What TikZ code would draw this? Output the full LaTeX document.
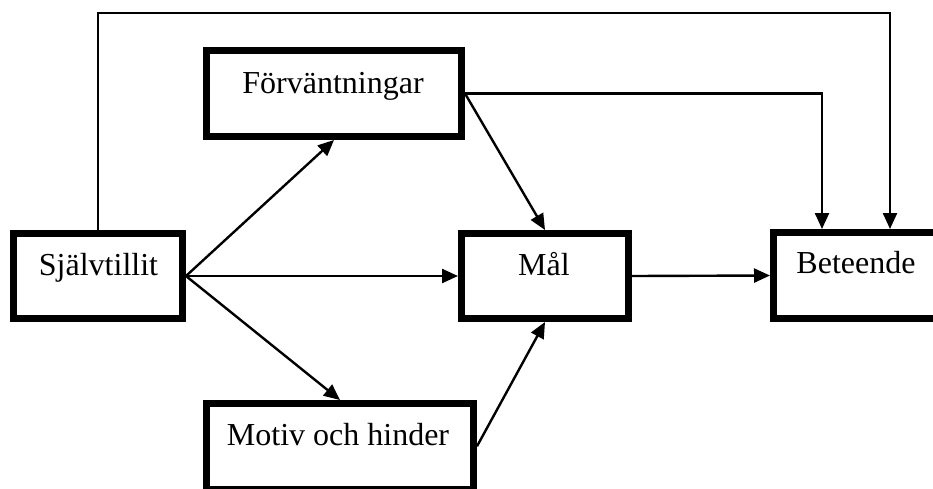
\documentclass[tikz,border=0pt]{standalone}
\usepackage{fontspec}
\setmainfont{Liberation Serif}
\usetikzlibrary{arrows.meta}
\begin{document}
\begin{tikzpicture}[x=1pt,y=-1pt,
  box/.style={draw, line width=7pt, rectangle, inner sep=0pt},
  lbl/.style={anchor=base, inner sep=0pt, font=\fontsize{32}{36}\selectfont},
  conn/.style={line width=2.4pt},
  arr/.style={conn, -{Triangle[length=16pt,width=14pt]}}]
\useasboundingbox[fill=white] (0,0) rectangle (933,488);
% boxes
\node[box, minimum width=169pt, minimum height=85pt] (sj) at (98,276) {};
\node[box, minimum width=255pt, minimum height=86pt] (fv) at (334,93.5) {};
\node[box, minimum width=167pt, minimum height=85pt] (ml) at (545,276) {};
\node[box, minimum width=166pt, minimum height=86pt] (bt) at (856.5,275.5) {};
\node[box, minimum width=267pt, minimum height=85.5pt] (mh) at (340,446.25) {};
% labels
\node[lbl] (sjt) at (98.5,275) {Självtillit};
\node[lbl] (fvt) at (333,93) {Förväntningar};
\node[lbl] (mlt) at (544,275) {Mål};
\node[lbl] (btt) at (856,273) {Beteende};
\node[lbl] (mht) at (338,445) {Motiv och hinder};
% helper coordinates
\coordinate (tr) at (890,13);
\coordinate (fr) at (822,93.5);
% connectors
\draw[arr] (sj.north) |- (tr) -- (tr |- bt.north);
\draw[arr] (fv.east) -- (fr) -- (fr |- bt.north);
\draw[arr] (fv.east) -- (ml.north);
\draw[arr] (sj.east) -- (fv.south);
\draw[arr] (sj.east) -- (ml.west);
\draw[arr] (sj.east) -- (mh.north);
\draw[arr] (mh.east) -- (ml.south);
\draw[arr] (ml.east) -- (bt.west);
\end{tikzpicture}
\end{document}
